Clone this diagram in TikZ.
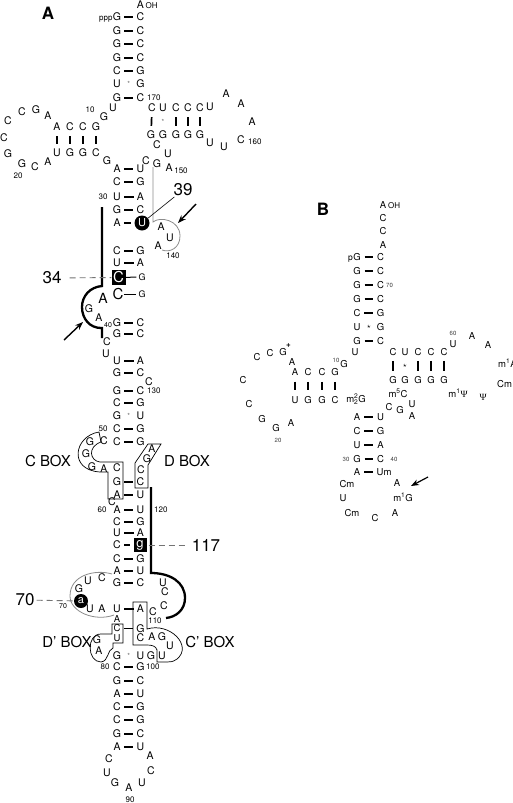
\documentclass[tikz,border=0pt]{standalone}
\usepackage{fontspec}
\setmainfont{TeX Gyre Heros}
\newfontfamily\psifont{Liberation Serif}
\usetikzlibrary{arrows.meta}
\tikzset{
  ntA/.style={font=\fontsize{10.5}{12}\selectfont, inner sep=0pt},
  ntB/.style={font=\fontsize{9.5}{11}\selectfont, inner sep=0pt},
  numA/.style={font=\fontsize{8}{9}\selectfont, inner sep=0pt},
  numB/.style={font=\fontsize{6}{7}\selectfont, inner sep=0pt, text=black!75},
  bigl/.style={font=\fontsize{17}{19}\selectfont, inner sep=0pt},
  boxlbl/.style={font=\fontsize{15}{17}\selectfont, inner sep=0pt},
  panel/.style={font=\fontsize{17}{19}\selectfont\bfseries, inner sep=0pt},
  gu/.style={font=\fontsize{7}{7}\selectfont, inner sep=0pt, text=black!60},
  bpA/.style={line width=1.7pt, shorten <=3.2pt, shorten >=3.2pt},
  bpB/.style={line width=1.5pt, shorten <=3.8pt, shorten >=3.8pt},
  vbar/.style={line width=1.7pt, shorten <=5pt, shorten >=5pt},
  vbarB/.style={line width=1.5pt, shorten <=6pt, shorten >=6pt},
  heavy/.style={line width=2.3pt},
  grayln/.style={draw=black!45, line width=0.8pt},
  dashln/.style={draw=black!55, line width=0.9pt, dash pattern=on 6pt off 4pt},
  outl/.style={draw=black, line width=0.7pt},
  arrowln/.style={draw=black, line width=1.4pt, -{Stealth[length=8pt,width=6pt]}},
}
\newcommand\pairA[4]{\node[ntA] (#1l) at (117,#2) {#3};\node[ntA] (#1r) at (140.5,#2) {#4};\draw[bpA] (#1l) -- (#1r);}
\newcommand\wobA[4]{\node[ntA] (#1l) at (117,#2) {#3};\node[ntA] (#1r) at (140.5,#2) {#4};\node[gu] (#1s) at (128.7,#2) {*};}
\newcommand\pairB[4]{\node[ntB] (#1l) at (357,#2) {#3};\node[ntB] (#1r) at (380.5,#2) {#4};\draw[bpB] (#1l) -- (#1r);}
\newcommand\ntxA[3]{\node[ntA] (#1) at (#2) {#3};}
\newcommand\ntxB[3]{\node[ntB] (#1) at (#2) {#3};}
\begin{document}
\begin{tikzpicture}[x=1pt,y=-1pt]
\useasboundingbox (0,0) rectangle (512,803);
\fill[white] (0,0) rectangle (512,803);

% ================= PANEL A =================
\node[panel] (labA) at (48,13) {A};
\ntxA{aoh}{140.5,4.5}{A}
\node[numA, anchor=west] (ohA) at (145.5,6) {OH};
\pairA{s1}{17}{G}{C}
\node[numA, anchor=base east] (ppp) at (s1l.base west) {ppp};
\pairA{s2}{31}{G}{C}
\pairA{s3}{44}{G}{C}
\pairA{s4}{58}{G}{C}
\pairA{s5}{71}{C}{G}
\wobA{s6}{84}{U}{G}
\pairA{s7}{98}{G}{C}
\node[numA, anchor=west] (n170) at (147,98) {170};
\node[numA] (n10) at (90,110) {10};
\ntxA{u8}{113,108}{U}
\ntxA{g9}{104,117}{G}
% left arm
\ntxA{da1}{57,127}{A}\ntxA{da2}{70,127}{C}\ntxA{da3}{83,127}{C}\ntxA{da4}{96,127}{G}
\ntxA{db1}{57,153}{U}\ntxA{db2}{70,153}{G}\ntxA{db3}{83,153}{G}\ntxA{db4}{96,153}{C}
\draw[vbar] (da1) -- (db1); \draw[vbar] (da2) -- (db2);
\draw[vbar] (da3) -- (db3); \draw[vbar] (da4) -- (db4);
\ntxA{dl1}{48,116}{A}\ntxA{dl2}{36,110}{G}\ntxA{dl3}{22,112}{C}\ntxA{dl4}{8,121}{C}
\ntxA{dl5}{4,138}{C}\ntxA{dl6}{8,154}{G}\ntxA{dl7}{22,164}{G}\ntxA{dl8}{35,167}{C}\ntxA{dl9}{48,162}{A}
\node[numA] (n20) at (18,176) {20};
\ntxA{g26}{107,161}{G}
% right arm
\ntxA{ta1}{152,108}{C}\ntxA{ta2}{163,108}{U}\ntxA{ta3}{176,108}{C}\ntxA{ta4}{188,108}{C}\ntxA{ta5}{200,108}{C}
\ntxA{tb1}{151,135}{G}\ntxA{tb2}{163,135}{G}\ntxA{tb3}{176,135}{G}\ntxA{tb4}{188,135}{G}\ntxA{tb5}{200,135}{G}
\draw[vbar] (ta1) -- (tb1); \draw[vbar] (ta3) -- (tb3);
\draw[vbar] (ta4) -- (tb4); \draw[vbar] (ta5) -- (tb5);
\node[gu] (tgu) at (163,122) {*};
\ntxA{tl1}{210,107}{U}\ntxA{tl2}{226,94}{A}\ntxA{tl3}{241,104}{A}\ntxA{tl4}{252,122}{A}
\ntxA{tl5}{241,140}{C}\node[numA, anchor=west] (n160) at (248,142) {160};
\ntxA{tl6}{224,147}{U}\ntxA{tl7}{210,143}{U}
\ntxA{j1}{157,145}{C}\ntxA{j2}{168,154}{U}
\pairA{s8}{169}{A}{U}
\ntxA{j3}{146,161}{C}\ntxA{j4}{157,164}{G}\ntxA{j5}{169,168}{A}
\node[numA] (n150) at (181,171) {150};
\pairA{s9}{182}{C}{G}
\pairA{s10}{197}{U}{A}
\node[numA] (n30) at (103,197) {30};
\pairA{s11}{210}{G}{C}
\ntxA{s12l}{117,223}{A}
\node[circle, fill=black, text=white, inner sep=0pt, minimum size=15pt, font=\fontsize{11}{11}\selectfont] (u39) at (142,223) {U};
\draw[bpA] (s12l) -- (u39);
\ntxA{la1}{161,227}{A}\ntxA{la2}{170,238}{U}\ntxA{la3}{158,246}{A}
\node[numA] (n140) at (173,256) {140};
\pairA{s13}{251}{C}{G}
\pairA{s14}{263}{U}{A}
\node[fill=black, text=white, inner sep=0pt, minimum width=14pt, minimum height=15pt, font=\fontsize{15}{15}\selectfont] (c34) at (118.5,277.5) {C};
\node[font=\fontsize{9}{9}\selectfont, inner sep=0pt] (s15r) at (142,277) {G};
\draw[line width=1pt, shorten >=2pt] (c34) -- (s15r);
\node[font=\fontsize{15}{15}\selectfont, inner sep=0pt] (s16l) at (118,294) {C};
\node[font=\fontsize{9}{9}\selectfont, inner sep=0pt] (s16r) at (142,294) {G};
\draw[line width=1pt, shorten >=2pt] (s16l) -- (s16r);
\node[font=\fontsize{14}{14}\selectfont, inner sep=0pt] (a35) at (103,298) {A};
\ntxA{lb1}{89,309}{G}\ntxA{lb2}{99,318}{A}
\node[font=\fontsize{7}{8}\selectfont, inner sep=0pt] (n40) at (108,325) {40};
\pairA{s17}{323}{G}{C}
\pairA{s18}{334}{G}{C}
\ntxA{b1}{107,342}{C}\ntxA{b2}{106,354}{U}
\pairA{s19}{361}{U}{A}
\pairA{s20}{373}{G}{C}
\ntxA{b3}{149,382}{C}
\pairA{s21}{391}{G}{C}
\node[numA, anchor=west] (n130) at (147,391) {130};
\pairA{s22}{403}{C}{G}
\wobA{s23}{416}{G}{U}
\pairA{s24}{429}{C}{G}
\node[numA] (n50) at (103,429) {50};
\pairA{s25}{442}{C}{G}
\ntxA{cb1}{104,441}{C}\ntxA{cb2}{90,442}{G}\ntxA{cb3}{86,454}{G}\ntxA{cb4}{92,467}{G}\ntxA{cb5}{104,469}{A}\ntxA{cb6}{117,468}{C}
\ntxA{dx1}{152,449}{A}\ntxA{dx2}{147,459}{G}\ntxA{dx3}{141,470}{C}
\pairA{s26}{482}{G}{C}
\pairA{s27}{495}{A}{U}
\ntxA{c59}{112,502}{C}
\pairA{s28}{510}{A}{U}
\node[numA] (n60) at (102,510) {60};
\node[numA, anchor=west] (n120) at (154,510) {120};
\pairA{s29}{522}{C}{G}
\pairA{s30}{533}{U}{A}
\ntxA{s31l}{117,545}{C}
\node[fill=black, text=white, inner sep=0pt, minimum width=13pt, minimum height=14pt, font=\fontsize{13}{13}\selectfont] (g117) at (140,545) {g};
\draw[bpA] (s31l) -- (g117);
\pairA{s32}{559}{C}{G}
\pairA{s33}{571}{A}{U}
\pairA{s34}{583}{G}{C}
\ntxA{rl1}{163,583}{U}\ntxA{rl2}{165,592}{C}\ntxA{rl3}{164,606}{C}\ntxA{rl4}{153,612}{C}
\node[numA] (n110) at (155,621) {110};
\ntxA{el1}{88,581}{U}\ntxA{el2}{102,578}{C}\ntxA{el3}{79,589}{G}
\node[circle, fill=black, text=white, inner sep=0pt, minimum size=14pt, font=\fontsize{11}{11}\selectfont] (a70) at (81,601) {a};
\node[font=\fontsize{7}{8}\selectfont, inner sep=0pt] (n70s) at (63,606) {70};
\ntxA{el4}{90,609}{U}\ntxA{el5}{102,609}{A}
\pairA{s35}{609}{U}{A}
\node[ntA, font=\fontsize{9.5}{10}\selectfont] (x1) at (117,619) {A};
\node[ntA, font=\fontsize{9.5}{10}\selectfont] (s36l) at (117,628.5) {C};
\node[ntA] (s36r) at (140.5,628.5) {G};
\draw[bpA] (s36l) -- (s36r);
\node[ntA, font=\fontsize{9.5}{10}\selectfont] (x2) at (117,638) {U};
\ntxA{x3}{140.5,638}{C}\ntxA{x4}{152,637}{A}\ntxA{x5}{162,637}{G}\ntxA{x6}{170,646}{U}
\wobA{s37}{656}{G}{U}
\ntxA{x7}{151,656}{G}\ntxA{x8}{162,656}{U}
\ntxA{x9}{97,640}{G}\ntxA{x10}{99,651}{A}
\pairA{s38}{667}{C}{G}
\node[numA] (n80) at (105,667) {80};
\node[numA, anchor=west] (n100) at (146,667) {100};
\pairA{s39}{681}{G}{C}
\pairA{s40}{694}{A}{U}
\pairA{s41}{707}{C}{G}
\pairA{s42}{720}{C}{G}
\pairA{s43}{734}{G}{C}
\pairA{s44}{747}{A}{U}
\ntxA{h1}{109,759}{C}\ntxA{h2}{107,773}{U}\ntxA{h3}{115,783}{G}\ntxA{h4}{129,788}{A}
\ntxA{h5}{142,783}{U}\ntxA{h6}{151,771}{C}\ntxA{h7}{150,756}{A}
\node[numA] (n90) at (130,800) {90};

% box labels and big labels
\node[boxlbl] (lcbox) at (48,461) {C BOX};
\node[boxlbl] (ldbox) at (187,461) {D BOX};
\node[boxlbl] (ldpbox) at (67,642) {D' BOX};
\node[boxlbl] (lcpbox) at (210,642) {C' BOX};
\node[bigl] (l34) at (52,278) {34};
\node[bigl] (l39) at (183,190) {39};
\node[bigl] (l117) at (206,545) {117};
\node[bigl] (l70) at (25,600) {70};

% boxes
\draw[outl] (99,432) .. controls (74,436) and (68,470) .. (100,472) -- (108,472) -- (108,499) -- (123,499) -- (123,462) -- (100,462) .. controls (90,461) and (87,447) .. (101,442) -- cycle;
\draw[outl] (135,488) -- (135,463) -- (148,444) -- (161,444) -- (148,465) -- (148,488) -- cycle;
\draw[outl] (133,602) -- (147,602) -- (147,629) .. controls (170,622) and (193,646) .. (177,659) .. controls (173,662) and (170,662) .. (167,662) -- (157,662) -- (157,650) .. controls (156,646) and (152,645) .. (147,645) -- (133,645) -- cycle;
\draw[outl] (112,624) -- (123,624) -- (123,643) -- (113,643) -- (113,648) .. controls (107,650) and (109,661) .. (101,662) .. controls (87,662) and (86,634) .. (101,634) -- (112,634) -- cycle;

% heavy lines
\draw[heavy] (102,207) -- (102,286) .. controls (90,287) and (82,296) .. (82,307) .. controls (82,319) and (90,328) .. (101,328) -- (102,328) -- (102,338);
\draw[heavy] (151,487) -- (151,573) .. controls (170,573) and (185,582) .. (185,598) .. controls (185,610) and (176,617) .. (166,618);
% gray lines
\draw[grayln] (153,167) -- (153,222) .. controls (160,216) and (180,220) .. (180,236) .. controls (180,248) and (170,253) .. (162,250);
\draw[grayln] (112,574) .. controls (95,569) and (70,575) .. (70,596) .. controls (70,612) and (95,622) .. (114,615);
% leaders
\draw[dashln, shorten <=8pt] (l34) -- (c34);
\draw[dashln, shorten <=2pt, shorten >=3pt] (g117) -- (l117);
\draw[dashln, shorten <=2pt] (l70) -- (a70);
\draw[line width=0.6pt, shorten >=1pt] (u39) -- (l39);
% arrows
\coordinate (ar1s) at (196,204); \coordinate (ar1e) at (178,223);
\draw[arrowln] (ar1s) -- (ar1e);
\coordinate (ar2s) at (64,340); \coordinate (ar2e) at (83,322);
\draw[arrowln] (ar2s) -- (ar2e);

% ================= PANEL B =================
\node[panel] (labB) at (323,209) {B};
\ntxB{baoh}{383,205}{A}
\node[numA, anchor=west] (ohB) at (388,206) {OH};
\ntxB{bt1}{383,218}{C}\ntxB{bt2}{383,231}{C}\ntxB{bt3}{383,245}{A}
\pairB{q1}{257}{G}{C}
\node[font=\fontsize{8.5}{9}\selectfont, inner sep=0pt, anchor=base east] (bpp) at (q1l.base west) {p};
\pairB{q2}{271}{G}{C}
\pairB{q3}{285}{G}{C}
\node[numB, anchor=west] (m70) at (386,285) {70};
\pairB{q4}{299}{G}{C}
\pairB{q5}{313}{C}{G}
\ntxB{q6l}{357,327}{U}\ntxB{q6r}{380.5,327}{G}
\node[font=\fontsize{7}{7}\selectfont, inner sep=0pt] (q6s) at (369,327) {$\star$};
\pairB{q7}{341}{G}{C}
\ntxB{bu8}{355,352}{U}
\node[numB] (m10) at (336,360) {10}; \ntxB{bg10}{344,364}{G}
\ntxB{bda1}{295,372}{A}\ntxB{bda2}{308,372}{C}\ntxB{bda3}{322,372}{C}\ntxB{bda4}{335,372}{G}
\ntxB{bdb1}{295,400}{U}\ntxB{bdb2}{308,400}{G}\ntxB{bdb3}{322,400}{G}\ntxB{bdb4}{335,400}{C}
\draw[vbarB] (bda1) -- (bdb1); \draw[vbarB] (bda2) -- (bdb2);
\draw[vbarB] (bda3) -- (bdb3); \draw[vbarB] (bda4) -- (bdb4);
\node[ntB] (m2g) at (356,399) {m\rlap{\textsuperscript{2}}\textsubscript{2}G};
\ntxB{bl1}{257,357}{C}\ntxB{bl2}{270,353}{C}\ntxB{bl3}{283,352}{G}
\node[font=\fontsize{8}{8}\selectfont\bfseries, inner sep=0pt] (blp) at (288.5,346) {+};
\ntxB{bl4}{292,362}{A}
\ntxB{bl5}{243,380}{C}\ntxB{bl6}{249,404}{C}
\ntxB{bl7}{262,419}{G}\ntxB{bl8}{276,428}{G}\ntxB{bl9}{291,423}{A}
\node[numB] (m20) at (278,440) {20};
\ntxB{bta1}{393,352}{C}\ntxB{bta2}{405,352}{U}\ntxB{bta3}{418,352}{C}\ntxB{bta4}{431,352}{C}\ntxB{bta5}{444,352}{C}
\ntxB{btb1}{393,380}{G}\ntxB{btb2}{405,380}{G}\ntxB{btb3}{418,380}{G}\ntxB{btb4}{431,380}{G}\ntxB{btb5}{444,380}{G}
\draw[vbarB, shorten <=5pt, shorten >=5pt] (bta1) -- (btb1); \draw[vbarB, shorten <=5pt, shorten >=5pt] (bta3) -- (btb3);
\draw[vbarB, shorten <=5pt, shorten >=5pt] (bta4) -- (btb4); \draw[vbarB, shorten <=5pt, shorten >=5pt] (bta5) -- (btb5);
\node[font=\fontsize{7}{7}\selectfont, inner sep=0pt] (bts) at (405,366) {$\star$};
\node[numB] (m60) at (453,333) {60};
\ntxB{btl1}{453,344}{U}\ntxB{btl2}{472,336}{A}\ntxB{btl3}{488,345}{A}
\node[ntB, anchor=west] (btl4) at (498,363) {m\textsuperscript{1}A};
\node[ntB, anchor=west] (btl5) at (497,384) {Cm};
\node[ntB] (btl6) at (483,397) {\psifont Ψ};
\node[ntB] (btl7) at (458,393) {m\textsuperscript{1}{\psifont Ψ}};
\node[ntB] (bm5c) at (398,393) {m\textsuperscript{5}C};
\ntxB{bj1}{412,404}{U}\ntxB{bj2}{412,416}{A}\ntxB{bj3}{389,407}{C}\ntxB{bj4}{400,410}{G}
\pairB{q8}{417}{A}{U}
\pairB{q9}{431}{C}{G}
\pairB{q10}{445}{U}{A}
\pairB{q11}{459}{G}{C}
\node[numB] (m30) at (346,459) {30};
\node[numB] (m40) at (394,459) {40};
\ntxB{q12l}{357,472}{A}
\node[ntB, anchor=west] (q12r) at (376.5,472) {Um};
\draw[bpB] (q12l) -- (q12r);
\ntxB{ba1}{347,484}{Cm}\ntxB{ba2}{343,498}{U}\ntxB{ba3}{352,513}{Cm}\ntxB{ba4}{375,518}{C}
\ntxB{ba5}{395,513}{A}
\node[ntB] (ba6) at (403,497) {m\textsuperscript{1}G};
\ntxB{ba7}{397,483}{A}
\coordinate (ar3s) at (428,477); \coordinate (ar3e) at (411,486);
\draw[arrowln, line width=1.2pt] (ar3s) -- (ar3e);
\end{tikzpicture}
\end{document}
